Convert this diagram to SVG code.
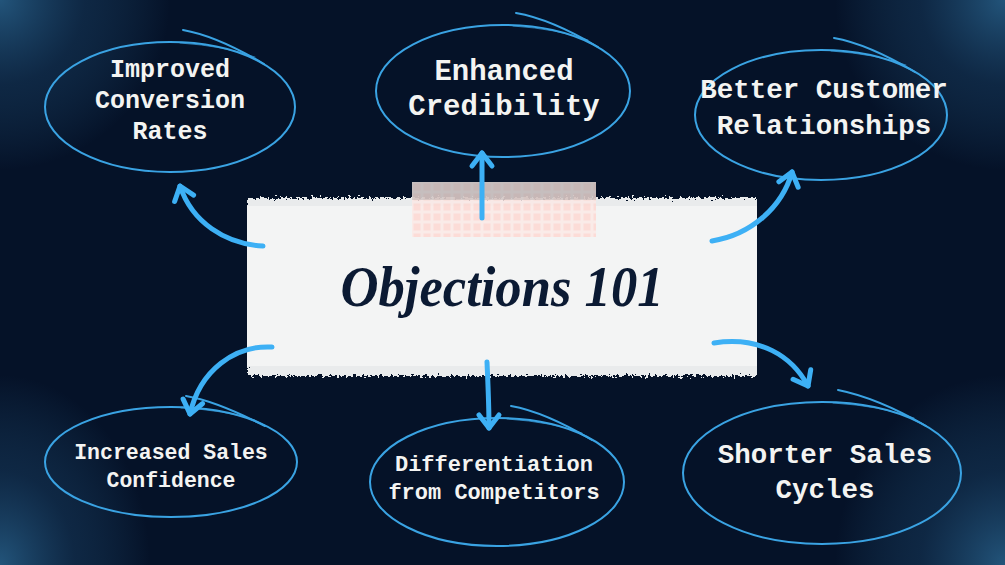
<svg xmlns="http://www.w3.org/2000/svg" width="1005" height="565" viewBox="0 0 1005 565">
<style>
.oval{fill:none;stroke:#3aa3e3;stroke-width:2;stroke-linecap:round}
.thin{fill:none;stroke:#3aa3e3;stroke-width:1;stroke-linecap:round;opacity:0.7}
.lbl{font-family:"Liberation Mono","DejaVu Sans Mono",monospace;font-weight:bold;fill:#f4f4f2;text-anchor:middle;dominant-baseline:central}
.arr{fill:none;stroke:#3db0f5;stroke-width:5;stroke-linecap:round;marker-end:url(#head)}
</style>
<defs>
<radialGradient id="g" cx="0.5" cy="0.5" r="0.5">
<stop offset="0" stop-color="#24587f" stop-opacity="0.95"/>
<stop offset="0.5" stop-color="#1a4266" stop-opacity="0.45"/>
<stop offset="1" stop-color="#24587f" stop-opacity="0"/>
</radialGradient>
<marker id="head" markerUnits="userSpaceOnUse" markerWidth="40" markerHeight="40" refX="0" refY="0" viewBox="-20 -20 40 40" orient="auto" overflow="visible">
<path d="M-13,-10 L0,0 L-13,10" fill="none" stroke="#3db0f5" stroke-width="5" stroke-linecap="round" stroke-linejoin="round"/>
</marker>
<filter id="rough" x="-5%" y="-100%" width="110%" height="300%">
<feTurbulence type="fractalNoise" baseFrequency="0.35" numOctaves="3" seed="4"/>
<feDisplacementMap in="SourceGraphic" scale="10" xChannelSelector="R" yChannelSelector="G"/>
</filter>
<pattern id="grid" width="10" height="10" patternUnits="userSpaceOnUse" x="412" y="182">
<rect width="10" height="10" fill="#fbe9e6"/>
<rect x="1.5" y="1.5" width="7" height="7" fill="#fdd8d2"/>
</pattern>
<clipPath id="pc"><rect x="247" y="190" width="510" height="195"/></clipPath>
</defs>
<rect width="1005" height="565" fill="#051228"/>
<ellipse cx="0" cy="0" rx="170" ry="170" fill="url(#g)"/>
<ellipse cx="1005" cy="0" rx="170" ry="170" fill="url(#g)"/>
<ellipse cx="0" cy="565" rx="150" ry="190" fill="url(#g)"/>
<ellipse cx="1005" cy="565" rx="170" ry="190" fill="url(#g)"/>

<g id="center">
<g clip-path="url(#pc)">
<rect x="247" y="198" width="510" height="24" fill="#e9ebec" filter="url(#rough)"/>
<rect x="247" y="352" width="510" height="24" fill="#e9ebec" filter="url(#rough)"/>
<rect x="247" y="206" width="510" height="160" fill="#f3f4f4"/>
</g>
<rect x="412" y="182" width="184" height="55" fill="url(#grid)" opacity="0.85"/>
<rect x="412" y="182" width="184" height="18" fill="#b9b5b5" opacity="0.55"/>
<text x="502" y="306" font-family="'Liberation Serif','DejaVu Serif',serif" font-style="italic" font-weight="bold" font-size="58" fill="#0b1a33" text-anchor="middle" textLength="323" lengthAdjust="spacingAndGlyphs">Objections 101</text>
</g>

<g id="n1">
<ellipse class="oval" cx="170" cy="107" rx="125" ry="65"/>
<path class="oval" d="M183,30 Q217,36 264,64"/>
<path class="thin" d="M180,43 Q225,46 255,57"/>
<text class="lbl" font-size="25" x="170" y="70">Improved</text>
<text class="lbl" font-size="25" x="170" y="101">Conversion</text>
<text class="lbl" font-size="25" x="170" y="132">Rates</text>
</g>
<g id="n2">
<ellipse class="oval" cx="503" cy="91" rx="127" ry="66"/>
<path class="oval" d="M516,13 Q551,19 598,47"/>
<path class="thin" d="M513,26 Q558,29 588,40"/>
<text class="lbl" font-size="29" x="504" y="72">Enhanced</text>
<text class="lbl" font-size="29" x="504" y="107">Credibility</text>
</g>
<g id="n3">
<ellipse class="oval" cx="821" cy="115" rx="126" ry="65"/>
<path class="oval" d="M834,38 Q868,44 915,72"/>
<path class="thin" d="M831,51 Q876,54 906,65"/>
<text class="lbl" font-size="27.5" x="824" y="90">Better Customer</text>
<text class="lbl" font-size="27.5" x="824" y="126">Relationships</text>
</g>
<g id="n4">
<ellipse class="oval" cx="171" cy="462" rx="126" ry="55"/>
<path class="oval" d="M186,396 Q216,401 265,426"/>
<path class="thin" d="M181,408 Q225,410 255,420"/>
<text class="lbl" font-size="21.5" x="171" y="453">Increased Sales</text>
<text class="lbl" font-size="21.5" x="171" y="481">Confidence</text>
</g>
<g id="n5">
<ellipse class="oval" cx="497" cy="482" rx="127" ry="64"/>
<path class="oval" d="M511,406 Q545,412 592,440"/>
<path class="thin" d="M507,419 Q552,422 582,433"/>
<text class="lbl" font-size="22" x="494" y="465">Differentiation</text>
<text class="lbl" font-size="22" x="494" y="493">from Competitors</text>
</g>
<g id="n6">
<ellipse class="oval" cx="822" cy="473" rx="139" ry="71"/>
<path class="oval" d="M838,390 Q878,398 926,426"/>
<path class="thin" d="M833,403 Q882,406 914,418"/>
<text class="lbl" font-size="27.5" x="825" y="455">Shorter Sales</text>
<text class="lbl" font-size="27.5" x="825" y="490">Cycles</text>
</g>

<g id="connectors">
<path class="arr" d="M263,246 C225,244 192,222 180,186"/>
<path class="arr" d="M482,218 L482,153"/>
<path class="arr" d="M712,241 C750,235 782,208 792,172"/>
<path class="arr" d="M272,347 C235,345 200,370 190,414"/>
<path class="arr" d="M487,362 C488,385 489,405 489,428"/>
<path class="arr" d="M714,343 C760,336 792,356 808,386"/>
</g>
</svg>
